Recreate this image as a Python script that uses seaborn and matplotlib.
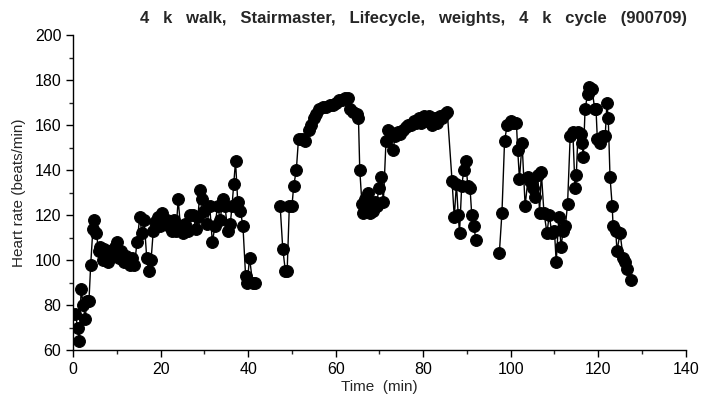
import numpy as np
import pandas as pd
import matplotlib
matplotlib.use("Agg")
import matplotlib.pyplot as plt
import seaborn as sns
from matplotlib.ticker import MultipleLocator

# Segment 1: 4 k walk / Stairmaster
t1 = [0.5, 1.0, 1.4, 1.8, 2.3, 2.7, 3.2, 3.6, 4.0, 4.5, 4.8, 5.3, 5.8, 6.2, 6.7, 7.1, 7.6, 8.0,
      8.5, 9.0, 9.5, 10.0, 10.5, 11.0, 11.5, 12.0, 12.5, 13.0, 13.5, 14.0, 14.6, 15.2, 15.7, 16.2,
      16.8, 17.3, 17.8, 18.3, 18.8, 19.3, 19.8, 20.4, 21.0, 21.5, 22.0, 22.5, 23.0, 23.5, 24.0,
      24.5, 25.0, 25.6, 26.2, 26.8, 27.4, 28.0, 28.5, 29.0, 29.5, 30.0, 30.6, 31.2, 31.8, 32.4,
      33.0, 33.6, 34.2, 34.7, 35.3, 35.9, 36.3, 36.7, 37.1, 37.6, 38.2, 38.8, 39.4, 39.8, 40.3,
      41.0, 41.6]
hr1 = [76, 70, 64, 87, 80, 74, 82, 82, 98, 114, 118, 112, 104, 106, 100, 105, 103, 99,
       104, 102, 106, 108, 101, 104, 99, 102, 100, 98, 101, 98, 108, 119, 112, 118,
       101, 95, 100, 113, 117, 119, 115, 121, 116, 118, 115, 113, 118, 113, 127,
       115, 112, 116, 113, 120, 120, 114, 119, 131, 127, 122, 116, 124, 108, 115,
       124, 118, 127, 124, 113, 116, 124, 134, 144, 126, 122, 115, 93, 90, 101,
       90, 90]

# Segment 2: Lifecycle / weights
t2 = [47.3, 47.9, 48.5, 48.9, 49.4, 50.0, 50.4, 51.0, 51.5, 52.2, 53.0, 53.8, 54.4, 55.0, 55.6,
      56.2, 57.0, 57.8, 58.6, 59.3, 60.0, 60.8, 61.5, 62.2, 62.9, 63.3, 64.0, 64.9, 65.2, 65.5,
      66.0, 66.3, 66.8, 67.3, 67.8, 68.3, 68.6, 69.0, 69.4, 69.8, 70.4, 70.9, 71.5, 72.0, 72.5,
      73.1, 73.6, 74.2, 74.8, 75.4, 76.0, 76.6, 77.2, 77.8, 78.4, 79.0, 79.6, 80.2, 80.8, 81.4,
      82.0, 82.6, 83.2, 83.8, 84.4, 85.0, 85.5, 86.6, 87.1, 87.6, 88.0, 88.3, 88.8, 89.3, 89.7,
      90.2, 90.7, 91.1, 91.5, 92.1]
hr2 = [124, 105, 95, 95, 124, 124, 133, 140, 154, 154, 153, 158, 160, 163, 165,
       167, 168, 168, 169, 169, 170, 171, 171, 172, 172, 167, 166, 165, 163, 140,
       125, 121, 127, 130, 121, 124, 122, 126, 124, 132, 137, 126, 153, 158, 157,
       149, 155, 157, 156, 158, 159, 160, 160, 162, 161, 163, 161, 164, 162, 164,
       160, 163, 161, 164, 163, 165, 166, 135, 119, 134, 120, 112, 133, 140, 144,
       133, 132, 120, 115, 109]

# Segment 3: 4 k cycle
t3 = [97.4, 98.0, 98.6, 99.2, 100.0, 100.6, 101.3, 101.6, 102.0, 102.6, 103.3, 104.0, 104.5,
      105.0, 105.6, 106.2, 106.6, 107.0, 107.6, 108.3, 108.8, 109.4, 110.0, 110.4, 111.0, 111.5,
      112.0, 112.5, 113.0, 113.6, 114.2, 114.7, 115.0, 115.4, 116.0, 116.3, 116.6, 117.0, 117.6,
      118.0, 118.6, 119.2, 119.5, 119.8, 120.5, 121.0, 121.6, 122.0, 122.3, 122.7, 123.2, 123.4,
      124.0, 124.3, 125.0, 125.7, 126.2, 126.6, 127.5]
hr3 = [103, 121, 153, 160, 162, 161, 161, 149, 136, 152, 124, 137, 135,
       132, 128, 138, 121, 139, 121, 112, 120, 112, 113, 99, 119, 106,
       113, 115, 125, 155, 157, 132, 138, 157, 156, 152, 146, 167, 174,
       177, 176, 167, 167, 154, 152, 155, 155, 170, 163, 137, 124, 115,
       113, 104, 112, 101, 99, 96, 91]

x_ticks = [0, 20, 40, 60, 80, 100, 120, 140]
y_ticks = [60, 80, 100, 120, 140, 160, 180, 200]

df = pd.concat([
    pd.DataFrame({"Time (min)": t1, "HR": hr1, "seg": 1}),
    pd.DataFrame({"Time (min)": t2, "HR": hr2, "seg": 2}),
    pd.DataFrame({"Time (min)": t3, "HR": hr3, "seg": 3}),
], ignore_index=True)

sns.set_style("ticks")
plt.rcParams['font.family'] = ['Liberation Sans', 'DejaVu Sans']

fig = plt.figure(figsize=(7.04, 4.0), dpi=100)
ax = fig.add_axes([0.104, 0.125, 0.87, 0.7875])

sns.lineplot(data=df, x="Time (min)", y="HR", units="seg", estimator=None,
             sort=False, color="black", linewidth=1.0, marker="o", markersize=8.5,
             markeredgecolor="black", markerfacecolor="black", ax=ax)

ax.set_xlim(0, 140)
ax.set_ylim(60, 200)
ax.set_xticks(x_ticks)
ax.set_yticks(y_ticks)
ax.xaxis.set_minor_locator(MultipleLocator(10))
ax.yaxis.set_minor_locator(MultipleLocator(10))
ax.tick_params(axis="both", which="major", direction="out", length=5, width=1,
               labelsize=11.5, colors="black")
ax.tick_params(axis="both", which="minor", direction="out", length=3, width=1)
sns.despine(ax=ax)
for s in ["left", "bottom"]:
    ax.spines[s].set_linewidth(1.0)
    ax.spines[s].set_color("black")

ax.set_xlabel("Time  (min)", fontsize=11, labelpad=2)
ax.set_ylabel("Heart rate (beats/min)", fontsize=11, labelpad=6)

fig.text(0.588, 0.955, "4   k   walk,   Stairmaster,   Lifecycle,   weights,   4   k   cycle   (900709)",
         ha="center", va="center", fontsize=12, fontweight="bold")

fig.savefig("out.png", dpi=100)
